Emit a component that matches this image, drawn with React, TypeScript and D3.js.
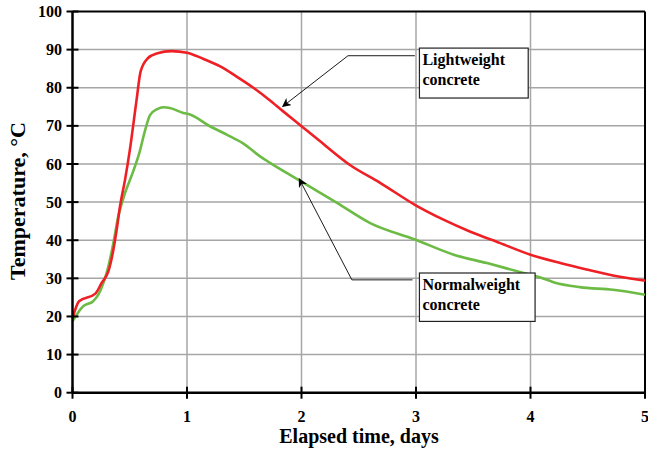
import * as d3 from 'd3';

// Lightweight concrete (red)
const lightDays = [0, 0.057, 0.2, 0.255, 0.313, 0.357, 0.386, 0.415, 0.459, 0.5, 0.56, 0.595, 0.66, 0.735, 0.866, 1.0, 1.14, 1.29, 1.43, 1.58, 1.72, 1.84, 2.0, 2.16, 2.42, 2.69, 2.99, 3.24, 3.47, 3.73, 4.0, 4.26, 4.49, 4.78, 5.0];
const lightTemp = [19.5, 24.0, 26.0, 28.8, 31.8, 37.5, 42.8, 48.9, 55.9, 63.5, 76.9, 84.3, 87.8, 89.0, 89.6, 89.2, 87.6, 85.6, 83.0, 80.0, 76.8, 73.8, 69.9, 66.0, 59.8, 55.0, 49.3, 45.4, 42.3, 39.3, 36.2, 34.0, 32.3, 30.4, 29.4];

// Normalweight concrete (green)
const normalDays = [0, 0.094, 0.18, 0.226, 0.27, 0.313, 0.357, 0.4, 0.459, 0.517, 0.58, 0.64, 0.677, 0.74, 0.793, 0.85, 0.968, 1.026, 1.2, 1.347, 1.49, 1.638, 1.725, 1.97, 2.31, 2.6, 2.99, 3.33, 3.62, 3.94, 4.08, 4.2, 4.43, 4.72, 5.0];
const normalTemp = [18.7, 22.7, 24.0, 25.7, 28.8, 33.1, 39.3, 46.3, 52.4, 57.0, 62.5, 69.5, 72.8, 74.4, 74.9, 74.7, 73.4, 73.0, 69.9, 67.7, 65.4, 62.0, 60.3, 55.9, 49.8, 44.5, 40.2, 36.2, 34.0, 31.4, 30.3, 29.0, 27.7, 27.0, 25.7];

const xTicks = [0, 1, 2, 3, 4, 5];
const yTicks = [0, 10, 20, 30, 40, 50, 60, 70, 80, 90, 100];

// annotation geometry, in data units: [day, temp]
const lightNote = { label: ['Lightweight', 'concrete'], box: [3.03, 90.4, 3.98, 77.3], path: [[2.99, 88.4], [2.406, 88.4], [1.836, 75.1]] };
const normalNote = { label: ['Normalweight', 'concrete'], box: [3.03, 31.4, 4.04, 18.7], path: [[2.97, 29.6], [2.44, 29.6], [1.98, 56.1]] };

const W = 648;
const H = 452;
const font = '"Liberation Serif", "Times New Roman", serif';

export default function App() {
  document.body.style.margin = '0';

  const x = d3.scaleLinear().domain([0, 5]).range([72.5, 645]);
  const y = d3.scaleLinear().domain([0, 100]).range([392.7, 11.5]);

  const line = d3
    .line<[number, number]>()
    .x((d) => x(d[0]))
    .y((d) => y(d[1]))
    .curve(d3.curveMonotoneX);

  const lightPts = lightDays.map((d, i) => [d, lightTemp[i]] as [number, number]);
  const normalPts = normalDays.map((d, i) => [d, normalTemp[i]] as [number, number]);

  const note = (n: typeof lightNote, key: string) => {
    const [x0, y0, x1, y1] = n.box;
    const pts = n.path.map((p) => `${x(p[0])},${y(p[1])}`).join(' ');
    return (
      <g key={key}>
        <rect
          x={x(x0)}
          y={y(y0)}
          width={x(x1) - x(x0)}
          height={y(y1) - y(y0)}
          fill="#fff"
          stroke="#222"
          strokeWidth={1.2}
        />
        <text x={x(x0) + 3} y={y(y0) + 17} fontFamily={font} fontWeight="bold" fontSize={16} fill="#000">
          {n.label[0]}
        </text>
        <text x={x(x0) + 3} y={y(y0) + 37} fontFamily={font} fontWeight="bold" fontSize={16} fill="#000">
          {n.label[1]}
        </text>
        <polyline points={pts} fill="none" stroke="#000" strokeWidth={0.9} markerEnd="url(#arrow)" />
      </g>
    );
  };

  return (
    <svg width={W} height={H} style={{ display: 'block', background: '#fff' }}>
      <defs>
        <marker id="arrow" viewBox="0 0 10 10" refX="9" refY="5" markerWidth="9" markerHeight="9" markerUnits="userSpaceOnUse" orient="auto">
          <path d="M0,0 L10,5 L0,10 L3,5 Z" fill="#000" />
        </marker>
      </defs>

      {/* grid */}
      {yTicks.slice(1, -1).map((t) => (
        <line key={`gy${t}`} x1={x(0)} x2={x(5)} y1={y(t)} y2={y(t)} stroke="#a6a6a6" strokeWidth={1.5} />
      ))}
      {xTicks.slice(1, -1).map((t) => (
        <line key={`gx${t}`} x1={x(t)} x2={x(t)} y1={y(0)} y2={y(100)} stroke="#a6a6a6" strokeWidth={1.5} />
      ))}

      {/* frame */}
      <line x1={x(0)} x2={x(5)} y1={y(100)} y2={y(100)} stroke="#000" strokeWidth={2} />
      <line x1={x(5)} x2={x(5)} y1={y(100)} y2={y(0)} stroke="#000" strokeWidth={2} />

      {/* series */}
      <path d={line(normalPts) ?? ''} fill="none" stroke="#6cbb45" strokeWidth={2.6} />
      <path d={line(lightPts) ?? ''} fill="none" stroke="#ee2025" strokeWidth={2.6} />

      {/* axes */}
      <line x1={x(0)} x2={x(0)} y1={y(100)} y2={y(0)} stroke="#000" strokeWidth={2.5} />
      <line x1={x(0)} x2={x(5)} y1={y(0)} y2={y(0)} stroke="#000" strokeWidth={2.5} />
      {yTicks.map((t) => (
        <g key={`ty${t}`}>
          <line x1={x(0) - 6} x2={x(0) + 6} y1={y(t)} y2={y(t)} stroke="#000" strokeWidth={2} />
          <text x={62} y={y(t)} dy="0.35em" textAnchor="end" fontFamily={font} fontWeight="bold" fontSize={16} fill="#000">
            {t}
          </text>
        </g>
      ))}
      {xTicks.map((t) => (
        <g key={`tx${t}`}>
          <line x1={x(t)} x2={x(t)} y1={y(0) - 6} y2={y(0) + 6} stroke="#000" strokeWidth={2} />
          <text x={x(t)} y={422} textAnchor="middle" fontFamily={font} fontWeight="bold" fontSize={16} fill="#000">
            {t}
          </text>
        </g>
      ))}

      <text x={359} y={443} textAnchor="middle" fontFamily={font} fontWeight="bold" fontSize={20} fill="#000">
        Elapsed time, days
      </text>
      <text
        transform={`translate(25,${201}) rotate(-90)`}
        textAnchor="middle"
        fontFamily={font}
        fontWeight="bold"
        fontSize={22}
        fill="#000"
      >
        Temperature, °C
      </text>

      {note(lightNote, 'light')}
      {note(normalNote, 'normal')}
    </svg>
  );
}
